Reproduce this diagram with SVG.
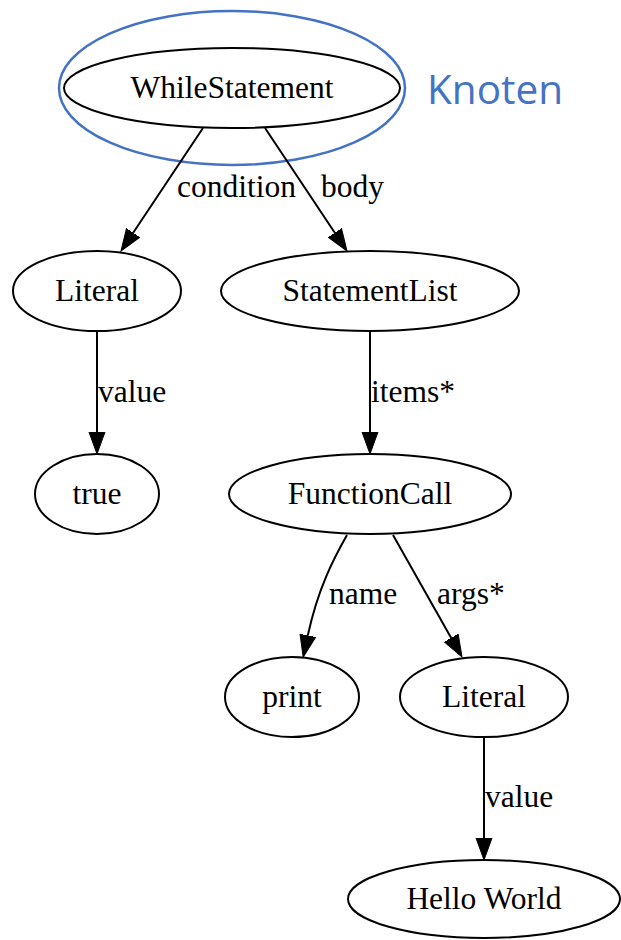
<svg xmlns="http://www.w3.org/2000/svg" width="621" height="940" viewBox="0 0 621 940">
  <style>
    .node ellipse { fill: none; stroke: #000; stroke-width: 2; }
    .node text, .label { font-family: "Liberation Serif", "Times New Roman", serif; font-size: 31.5px; fill: #000; }
    .node text { text-anchor: middle; }
    .edge { fill: none; stroke: #000; stroke-width: 2; marker-end: url(#arrow); }
    .note { font-family: "Open Sans", "Liberation Sans", sans-serif; font-size: 40.5px; fill: #4472C4; }
  </style>
  <defs>
    <!-- filled arrowhead; path ends at the arrow base -->
    <marker id="arrow" markerUnits="userSpaceOnUse" markerWidth="24" markerHeight="18" refX="0" refY="9" viewBox="0 0 24 18" orient="auto">
      <path d="M0,1 L22,9 L0,17 Z" fill="#000" stroke="#000" stroke-width="1"/>
    </marker>
  </defs>

  <!-- highlight around the root node -->
  <g id="highlight">
    <ellipse cx="232" cy="88" rx="173" ry="77" fill="none" stroke="#4472C4" stroke-width="2.5"/>
    <text class="note" x="427" y="104">Knoten</text>
  </g>

  <!-- connectors -->
  <g id="edges">
    <path class="edge" d="M203,128 L133.2,232.7"/>
    <path class="edge" d="M265,128 L334.8,232.7"/>
    <path class="edge" d="M97,331 L97,432"/>
    <path class="edge" d="M370,331 L370,432"/>
    <path class="edge" d="M347,535 C334,558 318,588 307.8,635.5"/>
    <path class="edge" d="M393,535 L451.2,637.9"/>
    <path class="edge" d="M484,738 L484,838"/>
    <text class="label" x="177" y="197">condition</text>
    <text class="label" x="321" y="197">body</text>
    <text class="label" x="98" y="402">value</text>
    <text class="label" x="371" y="402">items*</text>
    <text class="label" x="329" y="604">name</text>
    <text class="label" x="437" y="604">args*</text>
    <text class="label" x="485" y="807">value</text>
  </g>

  <g id="n-while" class="node">
    <ellipse cx="232" cy="88" rx="168" ry="40"/>
    <text x="232" y="98">WhileStatement</text>
  </g>
  <g id="n-literal1" class="node">
    <ellipse cx="97" cy="291" rx="84" ry="40"/>
    <text x="97" y="301">Literal</text>
  </g>
  <g id="n-statementlist" class="node">
    <ellipse cx="370" cy="291" rx="149" ry="40"/>
    <text x="370" y="301">StatementList</text>
  </g>
  <g id="n-true" class="node">
    <ellipse cx="97" cy="494" rx="62" ry="40"/>
    <text x="97" y="504">true</text>
  </g>
  <g id="n-functioncall" class="node">
    <ellipse cx="370" cy="494" rx="141" ry="40"/>
    <text x="370" y="504">FunctionCall</text>
  </g>
  <g id="n-print" class="node">
    <ellipse cx="292" cy="697" rx="67" ry="40"/>
    <text x="292" y="707">print</text>
  </g>
  <g id="n-literal2" class="node">
    <ellipse cx="484" cy="697" rx="84" ry="40"/>
    <text x="484" y="707">Literal</text>
  </g>
  <g id="n-hello" class="node">
    <ellipse cx="484" cy="899" rx="136" ry="39"/>
    <text x="484" y="909">Hello World</text>
  </g>
</svg>
